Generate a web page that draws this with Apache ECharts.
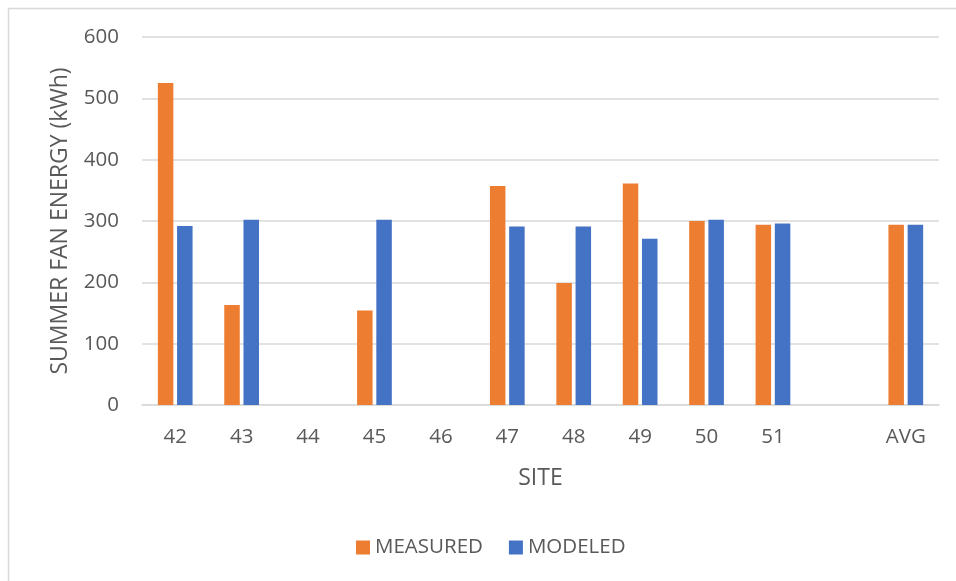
<!DOCTYPE html>
<html>
<head>
<meta charset="utf-8">
<script src="https://cdn.jsdelivr.net/npm/echarts@6/dist/echarts.min.js"></script>
<style>
  html, body { margin: 0; padding: 0; background: #fff; }
  #chart { width: 956px; height: 581px; }
</style>
</head>
<body>
<div id="chart"></div>
<script>
// Sites on the category axis; the empty slot separates the sites from the average.
const sites = ['42', '43', '44', '45', '46', '47', '48', '49', '50', '51', '', 'AVG'];
// Summer fan energy per site, kWh (no data for sites 44 and 46).
const measured = [525, 163, null, 154, null, 357, 199, 361, 300, 294, null, 294];
const modeled  = [292, 302, null, 302, null, 291, 291, 271, 302, 296, null, 294];
const yTicks = { min: 0, max: 600, step: 100 };

const FONT = 'Open Sans';
const TEXT = '#595959';
const LINE = '#D9D9D9';
const TICK_SIZE = 20.5;
const TITLE_SIZE = 23;

const chart = echarts.init(document.getElementById('chart'), null, { renderer: 'canvas' });

chart.setOption({
  backgroundColor: '#ffffff',
  animation: false,
  textStyle: { fontFamily: FONT, color: TEXT },
  graphic: [
    { type: 'line', shape: { x1: 8.5, y1: 8, x2: 8.5, y2: 581 }, style: { stroke: LINE, lineWidth: 1.5 } },
    { type: 'line', shape: { x1: 8, y1: 8.5, x2: 956, y2: 8.5 }, style: { stroke: LINE, lineWidth: 1.5 } }
  ],
  grid: { left: 142, right: 17, top: 37, bottom: 176, containLabel: false },
  legend: {
    top: 532,
    left: 351,
    itemWidth: 14,
    itemHeight: 14,
    itemGap: 26,
    icon: 'rect',
    textStyle: { fontFamily: FONT, fontSize: TICK_SIZE, color: TEXT },
    data: ['MEASURED', 'MODELED']
  },
  xAxis: {
    type: 'category',
    data: sites,
    name: 'SITE',
    nameLocation: 'middle',
    nameGap: 62,
    nameTextStyle: { fontFamily: FONT, fontSize: TITLE_SIZE, color: TEXT },
    axisLine: { lineStyle: { color: LINE, width: 1.5 } },
    axisTick: { show: false },
    axisLabel: { fontFamily: FONT, fontSize: TICK_SIZE, color: TEXT, margin: 22 }
  },
  yAxis: {
    type: 'value',
    min: yTicks.min,
    max: yTicks.max,
    interval: yTicks.step,
    name: 'SUMMER FAN ENERGY (kWh)',
    nameLocation: 'middle',
    nameGap: 70,
    nameRotate: 90,
    nameTextStyle: { fontFamily: FONT, fontSize: TITLE_SIZE, color: TEXT },
    axisLine: { show: false },
    axisTick: { show: false },
    axisLabel: { fontFamily: FONT, fontSize: TICK_SIZE, color: TEXT, margin: 23 },
    splitLine: { lineStyle: { color: LINE, width: 1.5 } }
  },
  series: [
    {
      name: 'MEASURED',
      type: 'bar',
      data: measured,
      barWidth: 15.5,
      barGap: '24%',
      itemStyle: { color: '#ED7D31' }
    },
    {
      name: 'MODELED',
      type: 'bar',
      data: modeled,
      barWidth: 15.5,
      barGap: '24%',
      itemStyle: { color: '#4472C4' }
    }
  ]
});
</script>
</body>
</html>
